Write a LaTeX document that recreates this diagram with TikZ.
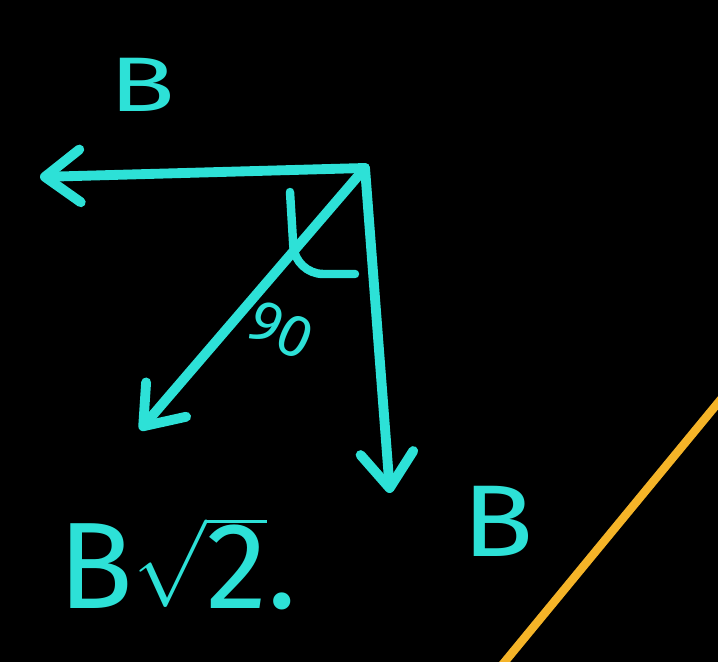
\documentclass[tikz,border=0pt]{standalone}
\usepackage{fontspec}
\setmainfont{Fira Sans}
\usepackage{tikz}
\usetikzlibrary{arrows.meta}
\definecolor{chalkcyan}{RGB}{45,225,215}
\definecolor{chalkorange}{RGB}{245,180,40}

\begin{document}
\begin{tikzpicture}[x=0.01cm, y=-0.01cm,
    vec/.style={chalkcyan, line width=2.8pt, line cap=round,
      -{Straight Barb[length=10pt, width=15pt, round]}},
    lbl/.style={chalkcyan, inner sep=0pt}]
  % Board
  \fill[black] (0,0) rectangle (718,662);
  \clip (0,0) rectangle (718,662);
  % Vectors from the common point
  \coordinate (O) at (365,168);
  \coordinate (left) at (40,177);
  \coordinate (down) at (390,493);
  \coordinate (diag) at (140,430);
  \draw[vec] (O) -- (left);
  \draw[vec] (O) -- (down);
  \draw[vec] (O) -- (diag);
  % Right angle mark
  \draw[chalkcyan, line width=2.4pt, line cap=round, rounded corners=8pt]
    (290,192) -- (295,274) -- (355,274);
  % Labels
  \node[lbl, font=\fontsize{22}{26}\selectfont, xscale=1.4] (Btop) at (142,85) {B};
  \node[lbl, font=\fontsize{29}{34}\selectfont, xscale=1.15] (Bright) at (498,521) {B};
  \node[lbl, font=\fontsize{35}{40}\selectfont, anchor=west] (Bsum) at (58,563) {B$\sqrt{\mbox{2}}$.};
  \node[lbl, font=\fontsize{17}{20}\selectfont, rotate=-25] (angle) at (281,330) {90};
  % Orange line
  \draw[chalkorange, line width=2.4pt] (498,670) -- (722,398);
\end{tikzpicture}
\end{document}
